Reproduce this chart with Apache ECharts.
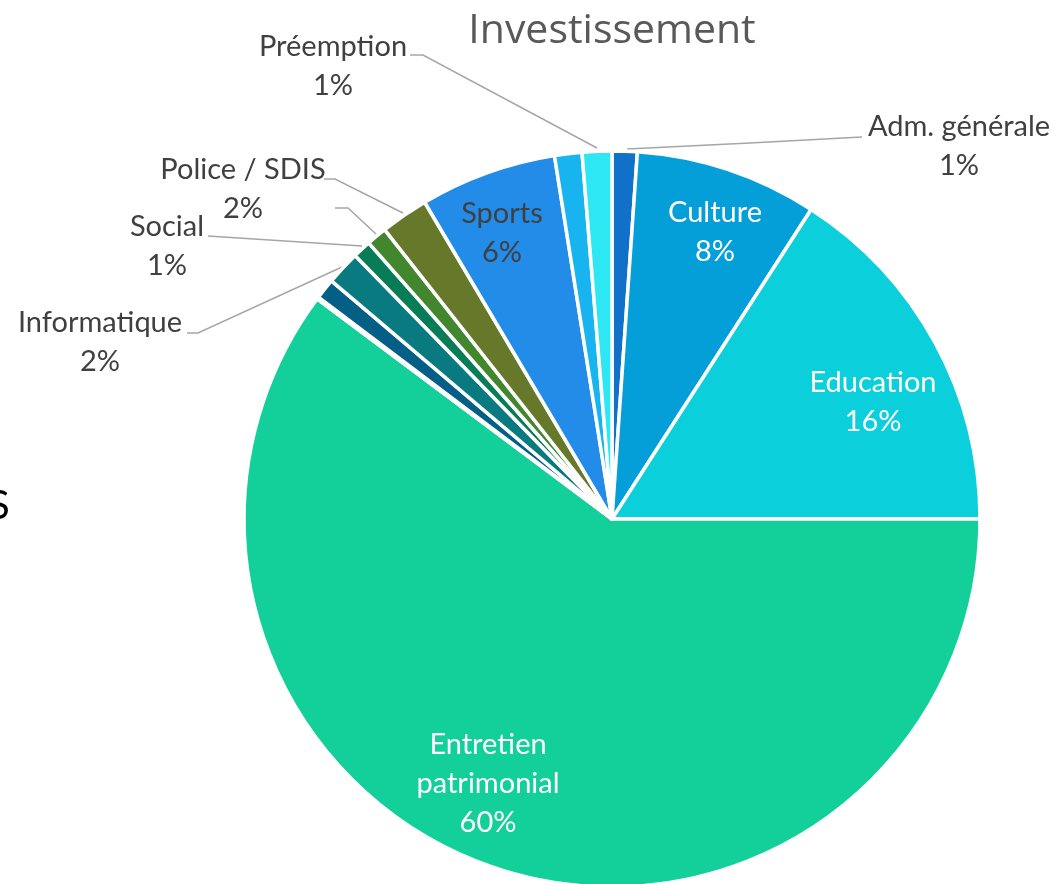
<!DOCTYPE html>
<html>
<head>
<meta charset="utf-8">
<script src="https://cdn.jsdelivr.net/npm/echarts@6/dist/echarts.min.js"></script>
<style>
  html, body { margin: 0; padding: 0; background: #fff; }
  #pie { width: 1054px; height: 884px; }
</style>
</head>
<body>
<div id="pie"></div>
<script>
// données (en % du total)
var categories = ['Adm. générale', 'Culture', 'Education', 'Entretien patrimonial', 'Autre 1', 'Autre 2',
  'Informatique', 'Social', 'Autre 3', 'Police / SDIS', 'Sports', 'Autre 4', 'Préemption'];
var values = [1.1, 8.0, 15.9, 60.2, 0.1, 0.9, 1.5, 0.8, 0.9, 2.1, 6.0, 1.2, 1.3];
var colors = ['#1170c8', '#049fd9', '#0ccfdc', '#13cf9a', '#6aa6d8', '#035f85',
  '#097b80', '#087b57', '#42862e', '#66782a', '#228ce8', '#18b4f0', '#2de8f2'];

// texte affiché par étiquette ('' = pas d'étiquette, ' ' = trait seul)
var labelNames = ['Adm. générale', 'Culture', 'Education', 'Entretien\npatrimonial', '', '',
  'Informatique', 'Social', ' ', 'Police / SDIS', 'Sports', '', 'Préemption'];
var insideWhite = [1, 2, 3];
var insideDark = [10];

// position des étiquettes (centre du bloc) et traits de rappel
var labelPos = {
  0: [959, 146], 1: [715, 232], 2: [873, 402], 3: [488, 784],
  6: [100, 342], 7: [167, 246], 8: [320, 208], 9: [243, 189],
  10: [502, 233], 12: [333, 66]
};
var linePts = {
  0: [[627, 149], [750, 143], [862, 137]],
  6: [[342, 267], [198, 333], [187, 333]],
  7: [[362, 246], [285, 241], [208, 236]],
  8: [[376, 234], [348, 208], [335, 208]],
  9: [[403, 213], [335, 179], [324, 179]],
  12: [[597, 148], [423, 55], [410, 55]]
};

var total = values.reduce(function (a, b) { return a + b; }, 0);

var myChart = echarts.init(document.getElementById('pie'));

var data = values.map(function (v, i) {
  var txt = labelNames[i];
  var item = { name: categories[i], value: v, itemStyle: { color: colors[i] } };
  if (txt === '') {
    item.label = { show: false };
    item.labelLine = { show: false };
  } else if (insideWhite.indexOf(i) >= 0 || insideDark.indexOf(i) >= 0) {
    item.label = { color: insideDark.indexOf(i) >= 0 ? '#404040' : '#ffffff' };
    item.labelLine = { show: false };
  }
  return item;
});

var option = {
  animation: false,
  graphic: [{
    type: 'text', x: 612, y: 31,
    style: {
      text: 'Investissement', align: 'center', verticalAlign: 'middle',
      fontFamily: 'Open Sans', fontSize: 41, fill: '#595959'
    }
  }, {
    type: 'text', left: -12, top: 486,
    style: { text: 'S', fontFamily: 'Lato', fontSize: 40, fill: '#000' }
  }],
  series: [{
    type: 'pie',
    center: [612, 519],
    radius: [0, 368],
    startAngle: 90,
    clockwise: true,
    avoidLabelOverlap: false,
    itemStyle: { borderColor: '#ffffff', borderWidth: 3.5 },
    label: {
      show: true,
      fontFamily: 'Lato',
      fontSize: 29,
      lineHeight: 39,
      color: '#404040',
      align: 'center',
      formatter: function (p) {
        var t = labelNames[p.dataIndex];
        if (t === ' ') return ' ';
        return t + '\n' + Math.round(p.value / total * 100) + '%';
      }
    },
    labelLine: {
      show: true,
      smooth: false,
      lineStyle: { color: '#a6a6a6', width: 1.5 }
    },
    labelLayout: function (params) {
      var i = params.dataIndex;
      var p = labelPos[i];
      if (!p) return {};
      var out = { x: p[0], y: p[1], align: 'center', verticalAlign: 'middle' };
      if (linePts[i]) out.labelLinePoints = linePts[i];
      return out;
    },
    data: data
  }]
};

myChart.setOption(option);
</script>
</body>
</html>
